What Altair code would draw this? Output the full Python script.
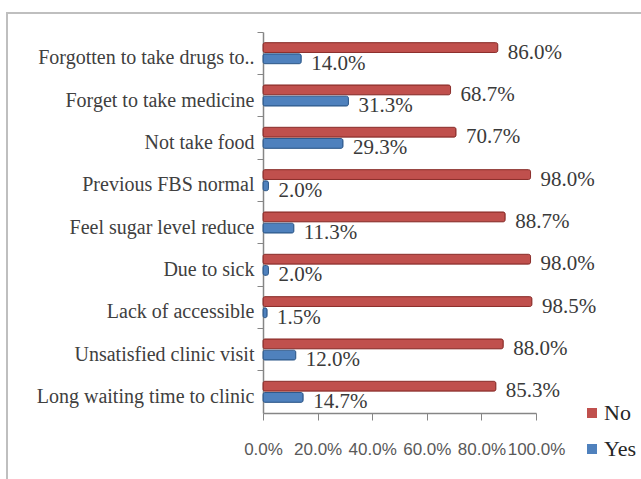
import altair as alt
import pandas as pd

categories = [
    "Forgotten to take drugs to..",
    "Forget to take medicine",
    "Not take food",
    "Previous FBS normal",
    "Feel sugar level reduce",
    "Due to sick",
    "Lack of accessible",
    "Unsatisfied clinic visit",
    "Long waiting time to clinic",
]
no_values = [86.0, 68.7, 70.7, 98.0, 88.7, 98.0, 98.5, 88.0, 85.3]
yes_values = [14.0, 31.3, 29.3, 2.0, 11.3, 2.0, 1.5, 12.0, 14.7]
series = ["No", "Yes"]
colors = ["#C0504D", "#4F81BD"]
strokes = ["#8C2F2C", "#2F5A8C"]
tick_values = [0, 0.2, 0.4, 0.6, 0.8, 1.0]

rows = []
for c, n, y in zip(categories, no_values, yes_values):
    rows.append({"category": c, "series": "No", "value": n / 100})
    rows.append({"category": c, "series": "Yes", "value": y / 100})
df = pd.DataFrame(rows)

W, H = 273, 381

base = alt.Chart(df)

y_enc = alt.Y(
    "category:N",
    sort=categories,
    scale=alt.Scale(paddingInner=0, paddingOuter=0),
    axis=alt.Axis(
        title=None,
        bandPosition=0,
        labelOffset=5,
        tickSize=6,
        tickColor="#868686",
        domainColor="#868686",
        domainWidth=1.5,
        labelFont="Liberation Serif",
        labelFontSize=20,
        labelColor="#404040",
        labelPadding=3,
        labelLimit=300,
    ),
)
yoff = alt.YOffset(
    "series:N",
    sort=series,
    scale=alt.Scale(domain=series, paddingInner=0.12, paddingOuter=0.95),
)

bars = base.mark_bar(cornerRadius=2, strokeWidth=1).encode(
    x=alt.X(
        "value:Q",
        scale=alt.Scale(domain=[0, 1], nice=False),
        axis=alt.Axis(
            title=None,
            values=tick_values,
            format=".1%",
            grid=False,
            tickSize=7,
            tickColor="#868686",
            domainColor="#868686",
            domainWidth=1.5,
            labelFont="Liberation Sans",
            labelFontSize=17,
            labelColor="#595959",
            labelPadding=21,
            labelFlush=False,
            labelOverlap=False,
        ),
    ),
    y=y_enc,
    yOffset=yoff,
    color=alt.Color(
        "series:N",
        scale=alt.Scale(domain=series, range=colors),
        legend=alt.Legend(
            title=None,
            orient="none",
            legendX=318,
            legendY=370,
            symbolType="square",
            symbolSize=100,
            symbolStrokeWidth=0,
            labelFont="Liberation Serif",
            labelFontSize=22,
            labelColor="#262626",
            labelOffset=1,
            rowPadding=14,
        ),
    ),
    stroke=alt.Stroke("series:N", scale=alt.Scale(domain=series, range=strokes), legend=None),
)

labels = base.mark_text(
    align="left",
    baseline="middle",
    dx=10,
    dy=5,
    font="Liberation Serif",
    fontSize=21,
    color="#3A3A3A",
).encode(
    x=alt.X("value:Q"),
    y=alt.Y("category:N", sort=categories),
    yOffset=yoff,
    text=alt.Text("value:Q", format=".1%"),
)

border = alt.Chart(alt.Data(values=[{"a": 1}])).mark_rect(
    fill=None, stroke="#BFBFBF", strokeWidth=2
).encode(
    x=alt.value(-256), x2=alt.value(420), y=alt.value(-19), y2=alt.value(470)
)

chart = alt.layer(border, bars, labels).properties(
    width=W,
    height=H,
    autosize=alt.AutoSizeParams(type="none"),
    padding={"left": 263, "top": 32, "right": 641 - 263 - W, "bottom": 66},
    background="white",
).configure_view(stroke=None)

chart.save("out.html", embed_options={"renderer": "svg", "actions": False})
